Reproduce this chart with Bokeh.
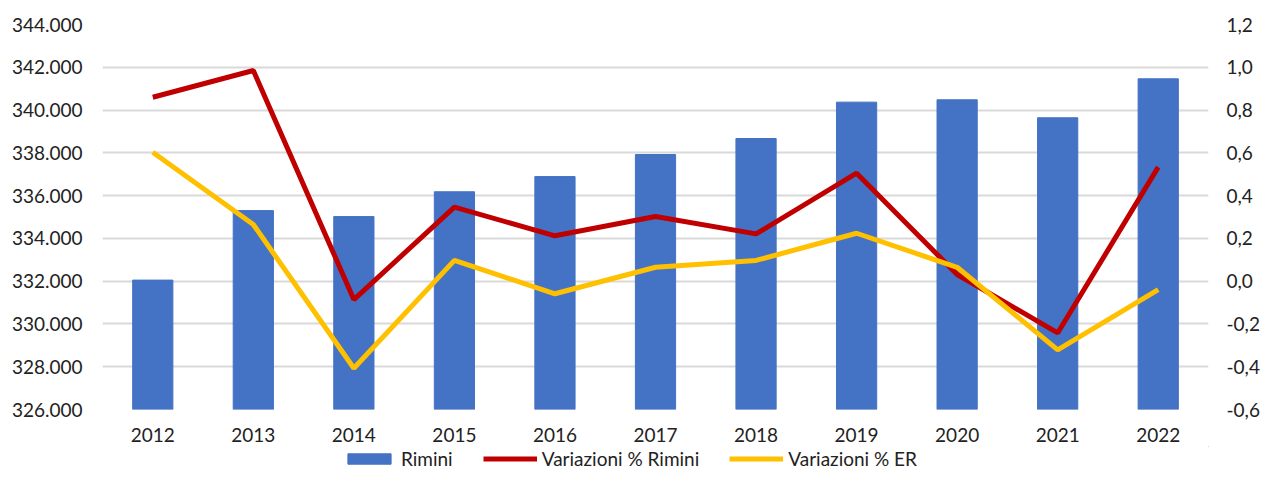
from bokeh.plotting import figure
from bokeh.layouts import column
from bokeh.models import (Range1d, LinearAxis, FixedTicker, CustomJSTickFormatter,
                          Legend, LegendItem, FactorRange)
from bokeh.embed import file_html
from bokeh.resources import INLINE

years = ["2012", "2013", "2014", "2015", "2016", "2017", "2018", "2019", "2020", "2021", "2022"]
rimini = [332050, 335300, 335020, 336180, 336890, 337920, 338670, 340370, 340480, 339640, 341460]
var_rimini = [0.86, 0.985, -0.086, 0.346, 0.212, 0.302, 0.221, 0.505, 0.031, -0.242, 0.533]
var_er = [0.603, 0.265, -0.407, 0.097, -0.059, 0.065, 0.097, 0.224, 0.065, -0.321, -0.040]
left_ticks = [326000, 328000, 330000, 332000, 334000, 336000, 338000, 340000, 342000, 344000]
right_ticks = [-0.6, -0.4, -0.2, 0.0, 0.2, 0.4, 0.6, 0.8, 1.0, 1.2]
series_names = ["Rimini", "Variazioni % Rimini", "Variazioni % ER"]

FONT = "Lato"
FS = "19px"
TXT = "#222222"
BLUE, RED, YEL = "#4472C4", "#C00000", "#FFC000"
W = 1262

p = figure(width=W, height=446, output_backend="svg", toolbar_location=None,
           x_range=FactorRange(*years, range_padding=0), y_range=Range1d(326000, 344000),
           min_border_left=102, min_border_right=53, min_border_top=24, min_border_bottom=37,
           outline_line_color=None)
p.extra_y_ranges = {"pct": Range1d(-0.6, 1.2)}

p.vbar(x=years, top=rimini, bottom=326000, width=0.4, color=BLUE)
p.line(x=years, y=var_rimini, y_range_name="pct", line_color=RED, line_width=5)
p.line(x=years, y=var_er, y_range_name="pct", line_color=YEL, line_width=5)

# left axis
ya = p.yaxis[0]
ya.ticker = FixedTicker(ticks=left_ticks)
ya.formatter = CustomJSTickFormatter(code="""
return Math.round(tick).toString().replace(/\\B(?=(\\d{3})+(?!\\d))/g, ".");
""")

# right axis
ra = LinearAxis(y_range_name="pct", ticker=FixedTicker(ticks=right_ticks))
ra.formatter = CustomJSTickFormatter(code="""
var t = Math.abs(tick) < 1e-9 ? 0 : tick;
return t.toFixed(1).replace(".", ",");
""")
p.add_layout(ra, "right")

for ax in [ya, ra, p.xaxis[0]]:
    ax.axis_line_color = None
    ax.major_tick_line_color = None
    ax.minor_tick_line_color = None
    ax.major_tick_out = 0
    ax.major_tick_in = 0
    ax.major_label_text_font = FONT
    ax.major_label_text_font_size = FS
    ax.major_label_text_color = TXT
ya.major_label_standoff = 20
ra.major_label_standoff = 18
p.xaxis[0].major_label_standoff = 18

p.xgrid.grid_line_color = None
p.ygrid.ticker = FixedTicker(ticks=left_ticks)
p.ygrid.grid_line_color = "#D9D9D9"
p.ygrid.grid_line_width = 2

# legend strip
p2 = figure(width=W, height=46, output_backend="svg", toolbar_location=None,
            x_axis_type=None, y_axis_type=None, min_border=0, outline_line_color=None,
            x_range=Range1d(0, 1), y_range=Range1d(0, 1))
p2.grid.grid_line_color = None
r_bar = p2.vbar(x=[5], top=[5], bottom=4, width=0.4, color=BLUE)
r_l1 = p2.line(x=[5, 6], y=[5, 5], line_color=RED, line_width=5)
r_l2 = p2.line(x=[5, 6], y=[5, 5], line_color=YEL, line_width=5)
legend = Legend(items=[LegendItem(label=series_names[0], renderers=[r_bar]),
                       LegendItem(label=series_names[1], renderers=[r_l1]),
                       LegendItem(label=series_names[2], renderers=[r_l2])],
                orientation="horizontal", location=(240, 22),
                glyph_width=54, glyph_height=13, label_standoff=5, spacing=30,
                padding=0, margin=0, border_line_color=None, background_fill_alpha=0,
                label_text_font=FONT, label_text_font_size=FS, label_text_color=TXT)
p2.add_layout(legend, "center")

open("out.html", "w").write(file_html(column(p, p2, spacing=0), INLINE))
